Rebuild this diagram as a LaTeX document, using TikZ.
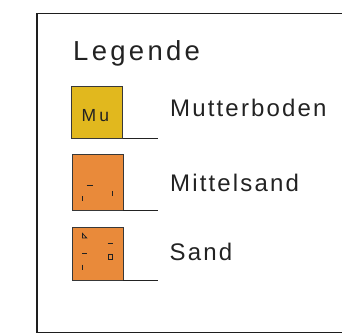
\documentclass[tikz,border=0pt]{standalone}
\usepackage{fontspec}
\setmainfont{Liberation Sans}
\definecolor{muyellow}{HTML}{E1B81E}
\definecolor{sandorange}{HTML}{E98A3A}
\definecolor{ink}{HTML}{222222}
\definecolor{frame}{HTML}{1E1E1E}
\begin{document}
\begin{tikzpicture}[x=1pt,y=-1pt,
  legbox/.style={draw=ink!90, line width=1pt, minimum width=51pt, inner sep=0pt, outer sep=0pt},
  leglabel/.style={anchor=base west, inner sep=0pt, text=ink, font=\fontsize{24}{28}\selectfont\addfontfeature{LetterSpace=9}},
  baseline/.style={draw=ink, line width=1pt},
  sym/.style={draw=ink, line width=1pt}]
\useasboundingbox (0,0) rectangle (342,336);
\clip (0,0) rectangle (342,336);
\draw[frame, line width=1.3pt] (37,13.5) rectangle (350,332.5);
\node[anchor=base west, inner sep=0pt, text=ink, font=\fontsize{27.5}{32}\selectfont\addfontfeature{LetterSpace=12}] (title) at (73,60.5) {Legende};
% Mutterboden
\node[legbox, fill=muyellow, minimum height=52pt] (mu) at (97,113) {};
\node[anchor=base west, inner sep=0pt, text=ink, font=\fontsize{17.5}{20}\selectfont\addfontfeature{LetterSpace=18}] (mutext) at (81.5,121.5) {Mu};
\coordinate (mul) at (158,139);
\draw[baseline] (mu.south east) -- (mul);
\node[leglabel] (l1) at (170,117) {Mutterboden};
% Mittelsand
\node[legbox, fill=sandorange, minimum height=56pt] (ms) at (97.5,183) {};
\coordinate (msl) at (158,211);
\draw[baseline] (ms.south east) -- (msl);
\draw[sym] (86.5,186) -- (92.5,186);
\draw[sym] (82,196.5) -- (82,201.5);
\draw[sym] (112.5,191) -- (112.5,196.5);
\node[leglabel] (l2) at (170,192) {Mittelsand};
% Sand
\node[legbox, fill=sandorange, minimum height=52pt] (sa) at (97.5,254) {};
\coordinate (sal) at (158,280);
\draw[baseline] (sa.south east) -- (sal);
\draw[sym, line width=0.8pt, line join=miter] (82.5,233.5) -- (82.5,238) -- (86.7,238) -- cycle;
\draw[sym] (107.7,243.3) -- (112.7,243.3);
\draw[sym] (82,253.3) -- (87.3,253.3);
\draw[sym, line width=0.9pt] (108.2,254.5) rectangle (112.2,259);
\draw[sym] (82.3,264.5) -- (82.3,269.5);
\node[leglabel] (l3) at (169.5,261) {Sand};
\end{tikzpicture}
\end{document}
